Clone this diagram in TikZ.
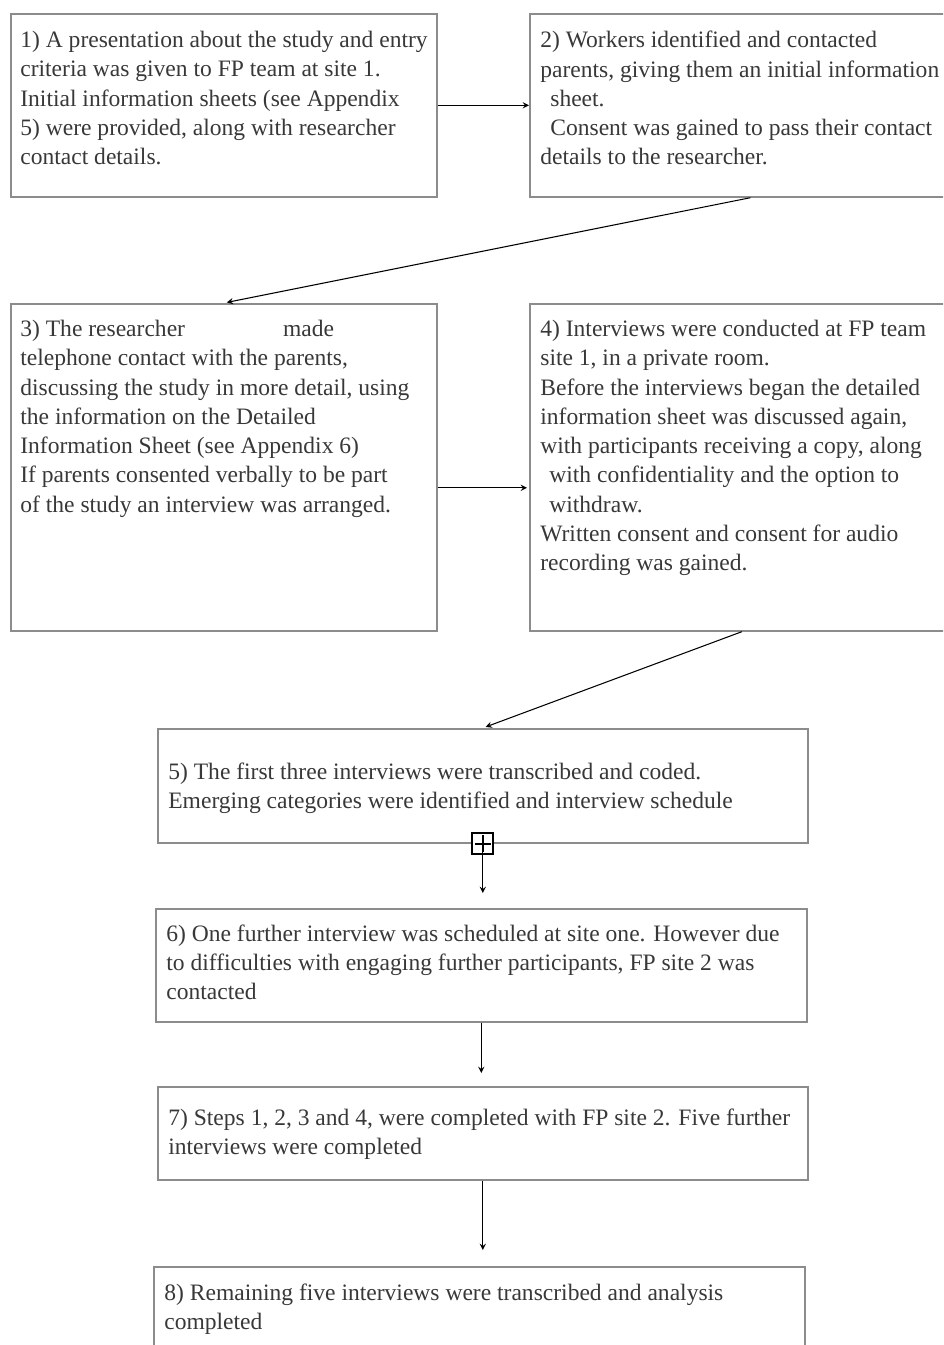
\documentclass[tikz,border=0pt]{standalone}
\usepackage{fontspec}
\setmainfont{Liberation Serif}
\usepackage{tikz}
\tikzstyle{frame} = [draw=gray!90,line width=1pt,inner sep=0,anchor=north west]
\tikzstyle{txt} = [anchor=north west,inner sep=0,align=left,text=black!78,font=\fontsize{13.4}{16.65}\selectfont,execute at begin node=\strut]
\tikzstyle{link} = [draw,->,>=stealth,line width=0.6pt]

\begin{document}
\begin{tikzpicture}[x=0.02cm,y=-0.02cm]
    \useasboundingbox (0,0) rectangle (943,1345);
    \clip (0,0) rectangle (943,1345);

    % boxes
    \node[frame,minimum width=8.52cm,minimum height=3.66cm] (s1) at (10,13) {};
    \node[frame,minimum width=8.82cm,minimum height=3.66cm] (s2) at (529,13) {};
    \node[frame,minimum width=8.52cm,minimum height=6.54cm] (s3) at (10,303) {};
    \node[frame,minimum width=8.82cm,minimum height=6.54cm] (s4) at (529,303) {};
    \node[frame,minimum width=13cm,minimum height=2.28cm] (s5) at (157,728) {};
    \node[frame,minimum width=13.02cm,minimum height=2.26cm] (s6) at (155,908) {};
    \node[frame,minimum width=13cm,minimum height=1.86cm] (s7) at (157,1086) {};
    \node[frame,minimum width=13.02cm,minimum height=1.88cm] (s8) at (153,1266) {};

    % texts
    \node[txt] (t1) at ([shift={(10,18)}]s1.north west) {1) A presentation about the study and entry\\criteria was given to FP team at site 1.\\Initial information sheets (see Appendix\\5) were provided, along with researcher\\contact details.};
    \node[txt] (t2) at ([shift={(11,18)}]s2.north west) {2) Workers identified and contacted\\parents, giving them an initial information\\\hspace*{0.2cm}sheet.\\\hspace*{0.2cm}Consent was gained to pass their contact\\details to the researcher.};
    \node[txt] (t3) at ([shift={(10,17)}]s3.north west) {3) The researcher\hspace{1.96cm}made\\telephone contact with the parents,\\discussing the study in more detail, using\\the information on the Detailed\\Information Sheet (see Appendix 6)\\If parents consented verbally to be part\\of the study an interview was arranged.};
    \node[txt] (t4) at ([shift={(11,17)}]s4.north west) {4) Interviews were conducted at FP team\\site 1, in a private room.\\Before the interviews began the detailed\\information sheet was discussed again,\\with participants receiving a copy, along\\\hspace*{0.18cm}with confidentiality and the option to\\\hspace*{0.18cm}withdraw.\\Written consent and consent for audio\\recording was gained.};
    \node[txt] (t5) at ([shift={(11,34.5)}]s5.north west) {5) The first three interviews were transcribed and coded.\\Emerging categories were identified and interview schedule};
    \node[txt] (t6) at ([shift={(11,16.5)}]s6.north west) {6) One further interview was scheduled at site one. However due\\to difficulties with engaging further participants, FP site 2 was\\contacted};
    \node[txt] (t7) at ([shift={(11,22.5)}]s7.north west) {7) Steps 1, 2, 3 and 4, were completed with FP site 2. Five further\\interviews were completed};
    \node[txt] (t8) at ([shift={(11,17.5)}]s8.north west) {8) Remaining five interviews were transcribed and analysis\\completed};

    % arrows
    \draw[link] (s1.east) -- (s2.west);
    \draw[link,shorten >=0.06cm] (s2.south) -- (s3.north);
    \draw[link,shorten >=0.04cm] ([yshift=-0.41cm]s3.east) -- ([yshift=-0.41cm]s4.west);
    \draw[link,shorten >=0.06cm] ([xshift=-0.17cm]s4.south) -- (s5.north);

    \node[draw,fill=white,line width=1pt,minimum size=0.42cm,inner sep=0] (anc) at (s5.south) {};
    \draw[line width=1pt] ([xshift=0.07cm]anc.west) -- ([xshift=-0.07cm]anc.east)
        ([yshift=-0.06cm]anc.north) -- ([yshift=0.06cm]anc.south);

    \draw[link,shorten >=0.3cm] (anc.center) -- (anc.center |- s6.north);
    \draw[link,shorten >=0.26cm] (s6.south) -- (s6.south |- s7.north);
    \draw[link,shorten >=0.32cm] (s7.south) -- (s7.south |- s8.north);

\end{tikzpicture}
\end{document}
